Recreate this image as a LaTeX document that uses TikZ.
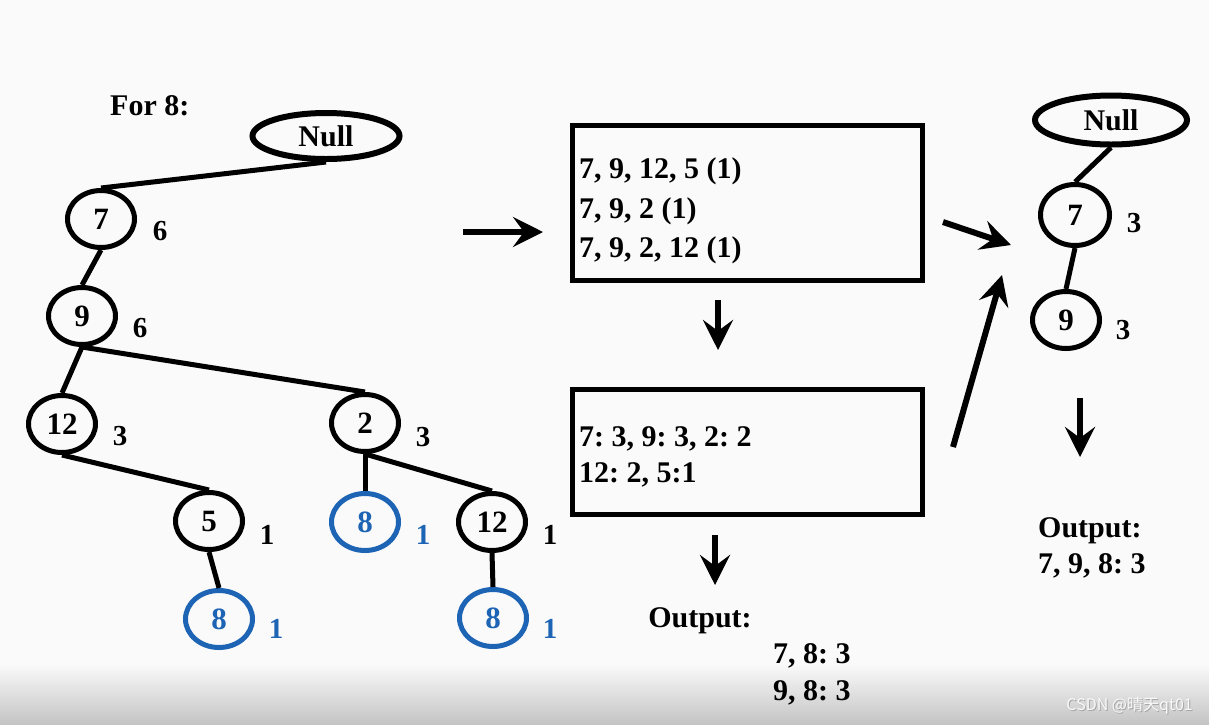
\documentclass[tikz,border=0pt]{standalone}
\usepackage{fontspec}
\setmainfont{Liberation Serif}
\newfontfamily\cjk{Noto Sans CJK SC}
\usetikzlibrary{shapes.geometric,arrows.meta}
\definecolor{nodeblue}{RGB}{30,100,180}
\definecolor{bgc}{RGB}{250,250,250}
\definecolor{bandgray}{RGB}{196,196,196}
\frenchspacing
\begin{document}
\begin{tikzpicture}[x=1pt,y=-1pt,
  tnode/.style={draw, ellipse, line width=5pt, minimum width=67pt, minimum height=57pt, inner sep=0pt, font=\fontsize{31}{31}\selectfont\bfseries},
  bnode/.style={tnode, draw=nodeblue, text=nodeblue},
  nullnode/.style={draw, ellipse, line width=6pt, inner sep=0pt, font=\fontsize{30}{30}\selectfont\bfseries},
  cnt/.style={inner sep=0pt, font=\fontsize{29}{29}\selectfont\bfseries},
  bcnt/.style={cnt, text=nodeblue},
  edge/.style={line width=5pt},
  arr/.style={line width=6pt, -{Stealth[length=30pt,width=30pt,inset=11pt]}},
  txt/.style={inner sep=0pt, anchor=base west, font=\fontsize{30}{30}\selectfont\bfseries},
  boxnode/.style={draw, line width=5pt, inner sep=0pt}
]
\useasboundingbox (0,0) rectangle (1209,724);
\fill[bgc] (0,0) rectangle (1209,724);
\shade[top color=bgc, bottom color=bandgray] (0,664) rectangle (1209,724);

% left tree
\node[txt] (for8) at (110,115) {For 8:};
\node[nullnode, minimum width=147pt, minimum height=46pt] (nullL) at (326,136) {Null};
\node[tnode] (a7) at (101,219) {7};
\node[tnode] (a9) at (82,316) {9};
\node[tnode] (a12) at (62,424) {12};
\node[tnode] (a2) at (365,423) {2};
\node[tnode] (a5) at (209,521) {5};
\node[bnode] (b8a) at (365,522) {8};
\node[tnode] (a12r) at (492,522) {12};
\node[bnode] (b8b) at (219,619) {8};
\node[bnode] (b8c) at (493,618) {8};

\node[cnt] (c7) at (160,231) {6};
\node[cnt] (c9) at (140,328) {6};
\node[cnt] (c12) at (120,436) {3};
\node[cnt] (c2) at (423,437) {3};
\node[cnt] (c5) at (267,535) {1};
\node[bcnt] (c8a) at (423,535) {1};
\node[cnt] (c12r) at (550,535) {1};
\node[bcnt] (c8b) at (276,629) {1};
\node[bcnt] (c8c) at (550,629) {1};

\draw[edge] (nullL.south) -- (a7.north);
\draw[edge] (a7.south) -- (a9.north);
\draw[edge] (a9.south) -- (a12.north);
\draw[edge] (a9.south) -- (a2.north);
\draw[edge] (a12.south) -- (a5.north);
\draw[edge] (a2.south) -- (b8a.north);
\draw[edge] (a2.south) -- (a12r.north);
\draw[edge] (a5.south) -- (b8b.north);
\draw[edge] (a12r.south) -- (b8c.north);

% boxes
\node[boxnode, minimum width=350pt, minimum height=155pt] (box1) at (747.5,203) {};
\node[txt] (l11) at (579,178) {7, 9, 12, 5 (1)};
\node[txt] (l12) at (579,218) {7, 9, 2 (1)};
\node[txt] (l13) at (579,257) {7, 9, 2, 12 (1)};

\node[boxnode, minimum width=350pt, minimum height=125pt] (box2) at (747.5,452) {};
\node[txt] (l21) at (579,446) {7: 3, 9: 3, 2: 2};
\node[txt] (l22) at (579,482) {12: 2, 5:1};

\node[txt, anchor=base] (out1) at (700,627) {Output:};
\node[txt] (o11) at (773,663) {7, 8: 3};
\node[txt] (o12) at (773,700) {9, 8: 3};

% right tree
\node[nullnode, minimum width=152pt, minimum height=49pt] (nullR) at (1111,120) {Null};
\node[tnode, minimum width=69pt, minimum height=61pt] (r7) at (1075,215) {7};
\node[tnode] (r9) at (1066,320) {9};
\node[cnt] (cr7) at (1134,223) {3};
\node[cnt] (cr9) at (1123,330) {3};
\draw[edge] (nullR.south) -- (r7.north);
\draw[edge] (r7.south) -- (r9.north);

\node[txt] (out2) at (1038,537) {Output:};
\node[txt] (o21) at (1038,573) {7, 9, 8: 3};

% arrows
\coordinate (p1s) at (463,232); \coordinate (p1e) at (543,232);
\coordinate (p2s) at (718,300); \coordinate (p2e) at (718,350);
\coordinate (p3s) at (715,535); \coordinate (p3e) at (715,585);
\coordinate (p4s) at (943,222); \coordinate (p4e) at (1011,245);
\coordinate (p5s) at (953,447); \coordinate (p5e) at (1002,275);
\coordinate (p6s) at (1080,398); \coordinate (p6e) at (1080,457);
\draw[arr] (p1s) -- (p1e);
\draw[arr] (p2s) -- (p2e);
\draw[arr] (p3s) -- (p3e);
\draw[arr] (p4s) -- (p4e);
\draw[arr] (p5s) -- (p5e);
\draw[arr] (p6s) -- (p6e);

% watermark
\node[inner sep=0pt, anchor=east, text=gray!70, font=\cjk\fontsize{16}{16}\selectfont] (wms) at (1194,707) {CSDN @晴天qt01};
\node[inner sep=0pt, anchor=east, text=white!95!gray, font=\cjk\fontsize{16}{16}\selectfont] (wm) at (1193,706) {CSDN @晴天qt01};
\end{tikzpicture}
\end{document}
